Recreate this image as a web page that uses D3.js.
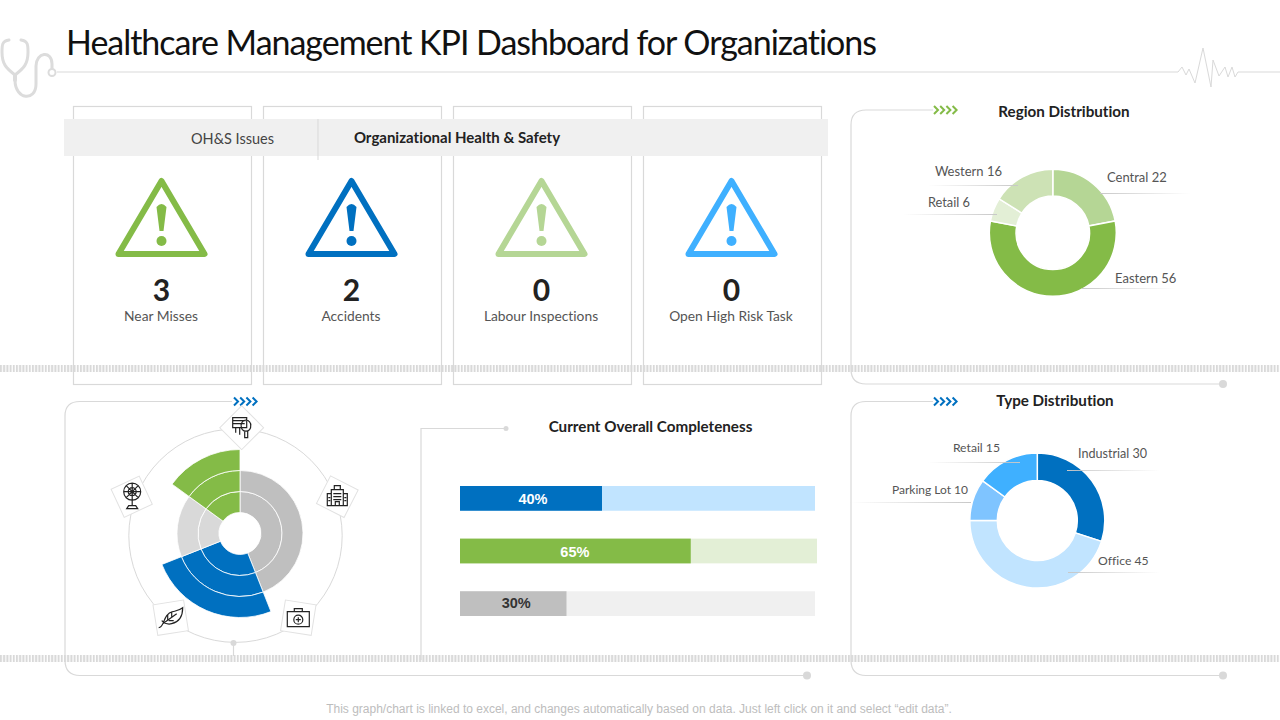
<!DOCTYPE html>
<html>
<head>
<meta charset="utf-8">
<script src="https://d3js.org/d3.v7.min.js"></script>
<style>
  html, body { margin: 0; background: #fff; }
  svg { display: block; font-family: Lato, "Open Sans", sans-serif; font-variant-ligatures: none; }
</style>
</head>
<body>
<svg id="chart" width="1280" height="720"></svg>
<script>
// kpi cards
const kpiLabels = ['Near Misses', 'Accidents', 'Labour Inspections', 'Open High Risk Task'];
const kpiValues = [3, 2, 0, 0];
const kpiColors = ['#84bb47', '#0070c0', '#b5d695', '#3fb0ff'];

// region donut
const regionNames = ['Central', 'Eastern', 'Retail', 'Western'];
const regionValues = [22, 56, 6, 16];
const regionColors = ['#b5d695', '#84bb47', '#e3efd6', '#cde2b5'];

// type donut
const typeNames = ['Industrial', 'Office', 'Parking Lot', 'Retail'];
const typeValues = [30, 45, 10, 15];
const typeColors = ['#0070c0', '#c1e4ff', '#7fc4ff', '#3fb0ff'];

// completeness bars
const barValues = [40, 65, 30];
const barColors = ['#0070c0', '#84bb47', '#bfbfbf'];
const trackColors = ['#c1e4ff', '#e3efd6', '#f0f0f0'];
const barTextColors = ['#fff', '#fff', '#333'];

// polar rings: share of the circle and number of rings
const polarShares = [44, 25, 16, 15];
const polarRings = [2, 3, 2, 3];
const polarColors = ['#bfbfbf', '#0070c0', '#d9d9d9', '#84bb47'];

const grey = '#d9d9d9';
const svg = d3.select('#chart');
const defs = svg.append('defs');

// tick pattern for the two dotted bands
defs.append('pattern').attr('id', 'ticks')
  .attr('width', 3.2).attr('height', 8).attr('patternUnits', 'userSpaceOnUse')
  .append('rect').attr('width', 2).attr('height', 8).attr('fill', '#d9d9d9');

// leader lines fade out away from the donut
[['fadeRight', 1, 0], ['fadeLeft', 0, 1]].forEach(([id, a, b]) => {
  const g = defs.append('linearGradient').attr('id', id);
  g.append('stop').attr('offset', 0).attr('stop-color', '#c8c8c8').attr('stop-opacity', a);
  g.append('stop').attr('offset', 1).attr('stop-color', '#c8c8c8').attr('stop-opacity', b);
});

// ---- header ----
svg.append('text').attr('x', 66).attr('y', 55)
  .attr('font-size', 34).attr('fill', '#111').attr('textLength', 811)
  .text('Healthcare Management KPI Dashboard for Organizations');

svg.append('path').attr('fill', 'none').attr('stroke', grey).attr('stroke-width', 1)
  .attr('d', 'M57,72H1178L1182,67L1186,75L1189,69L1195,83L1203,48L1211,87L1213,60L1219,76L1225,67L1228,77L1232,67L1235,77L1238,72H1280');

const scope = svg.append('g').attr('fill', 'none').attr('stroke', '#dcdcdc')
  .attr('stroke-width', 3).attr('stroke-linecap', 'round');
scope.append('path').attr('d', 'M9,40C2,41 2,45 2,52C2,64 6,68 15,75C24,68 28,64 28,52C28,45 28,41 21,40');
scope.append('path').attr('stroke-width', 4).attr('d', 'M15,75V80');
scope.append('path').attr('d', 'M15,80C15,100 36,102 36,84V66C36,52 52,50 52,64V68');
scope.append('circle').attr('cx', 52).attr('cy', 72.5).attr('r', 3.5).attr('stroke-width', 2);

// ---- frames ----
const frames = svg.append('g').attr('fill', 'none').attr('stroke', grey).attr('stroke-width', 1.2);
frames.append('path').attr('d', 'M933,110H866Q851,110 851,125V369Q851,384 866,384H1223');
frames.append('path').attr('d', 'M933,401.5H866Q851,401.5 851,416V660Q851,675.5 866,675.5H1223');
frames.append('path').attr('d', 'M232,401.5H80Q65,401.5 65,416V660Q65,675.5 80,675.5H807');
frames.append('path').attr('d', 'M421,660V428.5H505');
frames.append('path').attr('d', 'M233.5,643V656');
[[1223, 384, 4], [1223, 675.5, 4], [807, 675.5, 4], [506, 428.5, 2.5], [233.5, 643, 3]].forEach(([x, y, r]) => {
  svg.append('circle').attr('cx', x).attr('cy', y).attr('r', r).attr('fill', grey);
});

function chevrons(x, y, color) {
  svg.append('g').attr('fill', 'none').attr('stroke', color).attr('stroke-width', 2)
    .selectAll('path').data(d3.range(4)).join('path')
    .attr('d', d => `M${x + d * 6.2},${y - 4}l4,4l-4,4`);
}
chevrons(934, 110, '#84bb47');
chevrons(934, 401.5, '#0070c0');
chevrons(234, 401.5, '#0070c0');

// ---- kpi cards ----
const kpiX = d3.scalePoint().domain(kpiLabels).range([161.5, 731.5]);
const cards = svg.append('g').selectAll('g').data(kpiLabels).join('g')
  .attr('transform', d => `translate(${kpiX(d)},0)`);

cards.append('rect').attr('x', -88).attr('y', 106.5).attr('width', 178).attr('height', 278)
  .attr('fill', '#fff').attr('stroke', grey).attr('stroke-width', 1.2);

cards.append('path').attr('d', 'M0,181L43,254H-43Z')
  .attr('fill', 'none').attr('stroke-width', 6).attr('stroke-linejoin', 'round')
  .attr('stroke', (d, i) => kpiColors[i]);
cards.append('path').attr('d', 'M-5,207Q0,201 5,207L2,231H-2Z')
  .attr('fill', (d, i) => kpiColors[i]);
cards.append('circle').attr('cy', 241).attr('r', 5).attr('fill', (d, i) => kpiColors[i]);

cards.append('text').attr('y', 301).attr('text-anchor', 'middle')
  .attr('font-size', 30).attr('font-weight', 700).attr('fill', '#222')
  .text((d, i) => kpiValues[i]);
cards.append('text').attr('x', -0.5).attr('y', 321).attr('text-anchor', 'middle')
  .attr('font-size', 13.8).attr('fill', '#555').text(d => d);

svg.append('rect').attr('x', 64).attr('y', 119).attr('width', 764).attr('height', 37).attr('fill', '#f0f0f0');
svg.append('line').attr('x1', 318).attr('x2', 318).attr('y1', 119).attr('y2', 160)
  .attr('stroke', grey);
svg.append('text').attr('x', 232.5).attr('y', 144).attr('text-anchor', 'middle')
  .attr('font-size', 14.5).attr('fill', '#444').text('OH&S Issues');
svg.append('text').attr('x', 457).attr('y', 143).attr('text-anchor', 'middle')
  .attr('font-size', 15).attr('font-weight', 700).attr('fill', '#222')
  .text('Organizational Health & Safety');

// ---- dotted bands ----
[365, 655].forEach(y => {
  svg.append('rect').attr('x', 0).attr('y', y).attr('width', 1280).attr('height', 7).attr('fill', 'url(#ticks)');
});

// ---- donuts ----
function donut(cx, cy, inner, outer, values, colors) {
  const arcs = d3.pie().sort(null)(values);
  const arc = d3.arc().innerRadius(inner).outerRadius(outer);
  svg.append('g').attr('transform', `translate(${cx},${cy})`)
    .selectAll('path').data(arcs).join('path')
    .attr('d', arc).attr('fill', (d, i) => colors[i])
    .attr('stroke', '#fff').attr('stroke-width', 1.5);
}
donut(1052.8, 232.8, 36.7, 63.5, regionValues, regionColors);
donut(1037.3, 520.5, 40, 67.5, typeValues, typeColors);

function callout(name, value, size, tx, ty, anchor, x1, x2, ly, grad) {
  svg.append('rect').attr('x', x1).attr('y', ly).attr('width', x2 - x1).attr('height', 1)
    .attr('fill', `url(#${grad})`);
  svg.append('text').attr('x', tx).attr('y', ty).attr('text-anchor', anchor)
    .attr('font-size', size).attr('fill', '#555').text(`${name} ${value}`);
}
callout(regionNames[0], regionValues[0], 13, 1107, 182, 'start', 1100, 1190, 193, 'fadeRight');
callout(regionNames[1], regionValues[1], 13, 1115, 283, 'start', 1082, 1176, 288, 'fadeRight');
callout(regionNames[2], regionValues[2], 12.8, 970, 207, 'end', 903, 997, 214, 'fadeLeft');
callout(regionNames[3], regionValues[3], 13, 1002, 176, 'end', 928, 1018, 185, 'fadeLeft');
callout(typeNames[0], typeValues[0], 12.6, 1078, 458, 'start', 1067, 1160, 470, 'fadeRight');
callout(typeNames[1], typeValues[1], 12.2, 1098, 565, 'start', 1068, 1160, 572, 'fadeRight');
callout(typeNames[2], typeValues[2], 12, 968, 494, 'end', 850, 971, 502, 'fadeLeft');
callout(typeNames[3], typeValues[3], 12.2, 1000, 452, 'end', 928, 1020, 462, 'fadeLeft');

function panelTitle(text, x, y) {
  svg.append('text').attr('x', x).attr('y', y).attr('text-anchor', 'middle')
    .attr('font-size', 15.2).attr('font-weight', 700).attr('fill', '#222').text(text);
}
panelTitle('Region Distribution', 1064, 117);
panelTitle('Type Distribution', 1055, 406);
panelTitle('Current Overall Completeness', 650.5, 432);

// ---- completeness bars ----
const barX = d3.scaleLinear().domain([0, 100]).range([460, 815]);
const barY = d3.scaleBand().domain(d3.range(barValues.length)).range([486, 616]).paddingInner(0.53);
const labelNudge = [[2, 6], [-0.5, 6], [3, 4]];
const rows = svg.append('g').selectAll('g').data(barValues).join('g');
rows.append('rect').attr('x', barX(0)).attr('y', (d, i) => barY(i))
  .attr('width', (d, i) => barX(100) - barX(0) + (i === 1 ? 2 : 0)).attr('height', barY.bandwidth())
  .attr('fill', (d, i) => trackColors[i]);
rows.append('rect').attr('x', barX(0)).attr('y', (d, i) => barY(i))
  .attr('width', d => barX(d) - barX(0)).attr('height', barY.bandwidth())
  .attr('fill', (d, i) => barColors[i]);
rows.append('text').attr('x', (d, i) => (barX(0) + barX(d)) / 2 + labelNudge[i][0])
  .attr('y', (d, i) => barY(i) + barY.bandwidth() / 2 + labelNudge[i][1])
  .attr('text-anchor', 'middle').attr('font-family', '"Liberation Sans", sans-serif')
  .attr('font-size', 14.5).attr('font-weight', 700)
  .attr('fill', (d, i) => barTextColors[i]).text(d => `${d}%`);

// ---- polar chart ----
const ringR = d3.scaleLinear().domain([0, 3]).range([21, 84]);
const polar = svg.append('g').attr('transform', 'translate(240,533.5)');
const slices = d3.pie().sort(null)(polarShares);
slices.forEach((s, i) => {
  d3.range(polarRings[i]).forEach(k => {
    polar.append('path')
      .attr('d', d3.arc().innerRadius(ringR(k)).outerRadius(ringR(k + 1))(s))
      .attr('fill', polarColors[i]).attr('stroke', '#fff').attr('stroke-width', 0.8);
  });
});

svg.append('circle').attr('cx', 235.5).attr('cy', 535.7).attr('r', 106.7)
  .attr('fill', 'none').attr('stroke', grey).attr('stroke-width', 1);

const tiles = [
  { x: 241.7, y: 427.7, rot: 45, icon: 'board' },
  { x: 337.3, y: 496.7, rot: 27, icon: 'building' },
  { x: 298.3, y: 617.7, rot: 9, icon: 'kit' },
  { x: 170.7, y: 617.7, rot: -9, icon: 'leaf' },
  { x: 131.7, y: 496.7, rot: -25, icon: 'fan' }
];

// line icons, drawn around 0,0
const iconPaths = {
  board: 'M-9,-10H5V0H-9ZM-9,-7H4M-9,-4H3M-6,0V5M-2,0V7M-.5,-2A4.8,4.8 0 1 1 9,-2A4.8,4.8 0 1 1 -.5,-2M3,3V10H6V3',
  building: 'M-3,-11H3V-7H-3ZM-6,-7H6V9H-6ZM-10,-3H-6V9H-10ZM6,-3H10V9H6ZM-10,9H10M-4,-3H4M-4,0H4M-4,3H4M-2,9V5H2V9M-9,1H-7M-9,4H-7M7,1H9M7,4H9',
  kit: 'M-11,-6H11V9H-11ZM-4,-6V-9H4V-6M-4.5,2A4.5,4.5 0 1 0 4.5,2A4.5,4.5 0 1 0 -4.5,2M-2.5,2H2.5M0,-.5V4.5',
  leaf: 'M-12,10C-6,10 -8,-4 2,-6C6,-7 8,-7 12,-10C12,-3 9,4 1,6C-3,7 -7,5 -9,3M-8,6L6,-4M-3,2V-3M1,-1L1,-5M-2,3H3',
  fan: 'M-8,-5A8.5,8.5 0 1 0 9,-5A8.5,8.5 0 1 0 -8,-5M-3.5,-5A4,4 0 1 0 4.5,-5A4,4 0 1 0 -3.5,-5M.5,-13.5V3.5M-8,-5H9M-5.5,-11L6.5,1M6.5,-11L-5.5,1M.5,3.5V9M-3,9H4L6,12H-5Z'
};

const tile = svg.append('g').selectAll('g').data(tiles).join('g')
  .attr('transform', d => `translate(${d.x},${d.y})`);
tile.append('rect').attr('x', -15.5).attr('y', -15.5).attr('width', 31).attr('height', 31)
  .attr('transform', d => `rotate(${d.rot})`)
  .attr('fill', '#fff').attr('stroke', '#e2e2e2').attr('stroke-width', 1);
tile.append('path').attr('d', d => iconPaths[d.icon])
  .attr('fill', 'none').attr('stroke', '#222').attr('stroke-width', 1.2);

// ---- footer ----
svg.append('text').attr('x', 639).attr('y', 713).attr('text-anchor', 'middle')
  .attr('font-family', '"Liberation Sans", sans-serif').attr('font-size', 12).attr('fill', '#bdbdbd')
  .text('This graph/chart is linked to excel, and changes automatically based on data. Just left click on it and select “edit data”.');
</script>
</body>
</html>
